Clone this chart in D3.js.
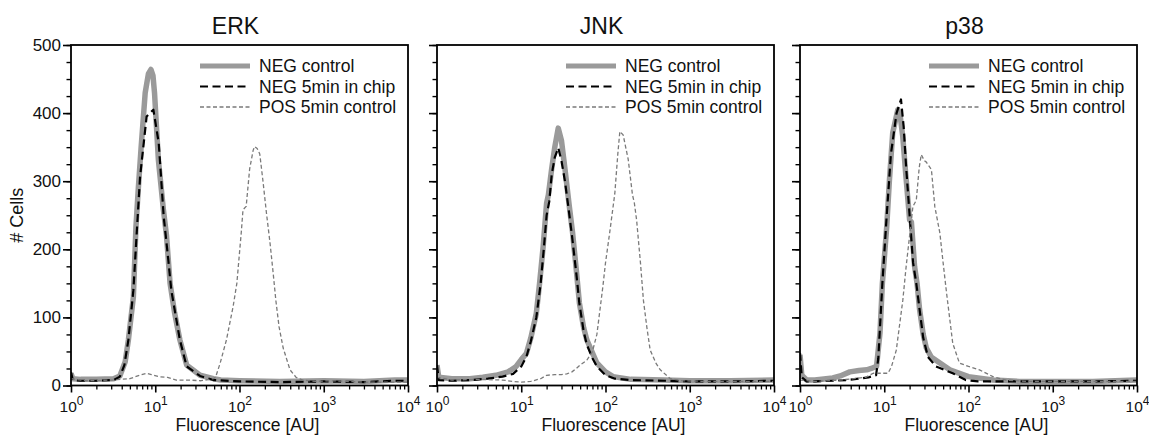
<!DOCTYPE html>
<html>
<head>
<meta charset="utf-8">
<script src="https://cdn.jsdelivr.net/npm/d3@7"></script>
<style>
  body { margin: 0; background: #fff; }
  text { font-family: "Liberation Sans", Arial, sans-serif; fill: #111; }
</style>
</head>
<body>
<script>
// ---- data: [fluorescence AU, # cells] ----
const titles = ["ERK", "JNK", "p38"];
const legendLabels = ["NEG control", "NEG 5min in chip", "POS 5min control"];
const yTicks = [0, 100, 200, 300, 400, 500];
const xDecades = [1, 10, 100, 1000, 10000];

const erkNeg = [[1,18],[1.05,10],[1.3,9],[2,9],[3.2,10],[3.8,14],[4.4,35],[4.8,67],[5.5,130],[5.9,233],[6.3,290],[6.8,350],[7.6,430],[8.3,458],[8.9,464],[9.4,455],[9.8,430],[10.9,331],[12.5,258],[13.6,220],[15,150],[17,106],[19.6,67],[23.6,30],[34,15],[49,10],[60,8],[100,7],[300,6],[1000,7],[3000,6],[7000,8],[10000,8]];
const erkChip = [[1,20],[1.05,8],[1.3,7],[2,7],[3.2,8],[3.8,13],[4.3,30],[4.8,67],[5.5,140],[6,220],[6.6,306],[7.9,395],[9.5,405],[11,356],[12.6,248],[14.3,184],[15.5,140],[19.6,67],[23.6,28],[34,14],[49,8],[100,6],[300,5],[1000,6],[3000,5],[7000,7],[10000,7]];
const erkPos = [[1,10],[1.5,7],[3,8],[5,10],[6.5,15],[7.9,18],[9,16],[11,13],[14,12],[17.8,8],[25,8],[35,7],[49,10],[52,12],[59,33],[70,67],[84,116],[93,150],[105,225],[110,258],[120,263],[132,318],[145,345],[151,351],[162,348],[174,340],[190,300],[209,253],[230,210],[251,165],[270,125],[295,86],[330,55],[398,23],[470,12],[562,8],[800,6],[1200,7],[3000,5],[10000,5]];

const jnkNeg = [[1,30],[1.05,12],[1.5,10],[2.45,10],[3.5,12],[5,15],[7,20],[8.7,28],[10,38],[11.5,47],[13,70],[15.1,106],[16.5,150],[18.2,204],[20,268],[21,280],[22.9,317],[25,350],[27.5,378],[30,360],[33.1,317],[37.2,263],[40.7,224],[45,170],[49,121],[55,85],[60,67],[70,48],[79,33],[100,20],[123,13],[200,9],[500,8],[1000,7],[3000,7],[10000,8]];
const jnkChip = [[1,30],[1.05,8],[1.5,7],[2.5,8],[4,10],[6,13],[8,17],[10,28],[11.5,42],[13,65],[15.1,100],[17,150],[18.5,200],[20,250],[21.5,270],[23,310],[25,335],[27.5,349],[30,330],[33,300],[36,265],[40,220],[45,165],[49,120],[55,80],[60,60],[70,40],[79,28],[100,15],[130,10],[200,8],[500,7],[1000,6],[3000,6],[10000,7]];
const jnkPos = [[1,12],[1.5,8],[3,9],[6,8],[8,6],[10,5],[13,6],[17,10],[20,15],[25,16],[30,16],[34.7,17],[40,20],[45,25],[50,30],[60,37],[70,50],[79,75],[93,145],[100,180],[112,224],[129,282],[140,340],[148,373],[162,368],[186,332],[209,280],[220,268],[234,243],[260,180],[282,125],[310,85],[339,52],[400,32],[447,23],[589,10],[800,7],[1500,6],[10000,6]];

const p38Neg = [[1,45],[1.05,15],[1.2,8],[1.5,8],[2.45,11],[3,14],[3.9,20],[5,22],[6.2,23],[7,25],[8.1,28],[8.9,77],[9.5,150],[10.7,233],[11.5,300],[12.6,371],[14.5,405],[15.5,395],[16.6,365],[18,310],[20,243],[21,240],[22.9,175],[24.5,150],[26.3,111],[29,75],[31.6,55],[36,42],[41,37],[60,23],[100,13],[195,8],[400,6],[1000,6],[3000,6],[10000,8]];
const p38Chip = [[1,48],[1.05,12],[1.2,6],[1.5,6],[2.5,7],[3.5,8],[5,10],[6.5,12],[8,15],[8.5,40],[9.5,150],[10.7,250],[12,340],[14,400],[15.8,420],[17,380],[18.2,320],[20,250],[22,180],[24,150],[26.3,111],[29,70],[33,42],[41,28],[65,18],[93,8],[130,6],[200,6],[1000,6],[3000,6],[10000,7]];
const p38Pos = [[1,8],[1.5,6],[3,8],[6,12],[7.4,18],[11.1,18],[12.2,28],[13.9,52],[16.6,125],[18.2,175],[20,220],[21.9,263],[24,272],[26,320],[27.5,339],[30,330],[31.6,328],[36.3,317],[39.8,263],[45.7,224],[50,180],[55,135],[65,62],[78,33],[100,28],[135,23],[195,13],[280,8],[500,6],[1000,6],[10000,6]];

const panels = [
  {title: titles[0], series: [erkNeg, erkChip, erkPos], left: 71},
  {title: titles[1], series: [jnkNeg, jnkChip, jnkPos], left: 437},
  {title: titles[2], series: [p38Neg, p38Chip, p38Pos], left: 800}
];

// line styles: NEG control, NEG 5min in chip, POS 5min control
const styles = [
  {stroke: "#9a9a9a", width: 5.5, dash: null},
  {stroke: "#000", width: 2.2, dash: "8,4.5"},
  {stroke: "#7a7a7a", width: 1.3, dash: "4,2.5"}
];

const W = 1149, H = 440;
const plotTop = 45, plotBottom = 385.5, pw = 337;

const svg = d3.select("body").append("svg")
  .attr("width", W).attr("height", H);

const y = d3.scaleLinear().domain([0, 500]).range([plotBottom, plotTop]);

panels.forEach((p, pi) => {
  const x = d3.scaleLog().domain([1, 10000]).range([p.left, p.left + pw]);
  const g = svg.append("g");

  const clipId = "clip" + pi;
  svg.append("clipPath").attr("id", clipId)
    .append("rect")
    .attr("x", p.left).attr("y", plotTop)
    .attr("width", pw).attr("height", plotBottom - plotTop);

  const line = d3.line()
    .x(d => x(d[0]))
    .y(d => y(d[1]));

  // draw order: gray, black dashed, POS
  p.series.forEach((s, si) => {
    const st = styles[si];
    g.append("path")
      .datum(s)
      .attr("clip-path", "url(#" + clipId + ")")
      .attr("fill", "none")
      .attr("stroke", st.stroke)
      .attr("stroke-width", st.width)
      .attr("stroke-linejoin", "round")
      .attr("stroke-dasharray", st.dash)
      .attr("d", line);
  });

  // frame
  g.append("rect")
    .attr("x", p.left).attr("y", plotTop)
    .attr("width", pw).attr("height", plotBottom - plotTop)
    .attr("fill", "none").attr("stroke", "#000").attr("stroke-width", 1.8);

  // y axis - minor then major
  const minorY = d3.range(0, 501, 25);
  g.append("g").attr("transform", `translate(${p.left},0)`)
    .call(d3.axisLeft(y).tickValues(minorY).tickSize(4.5).tickFormat(""))
    .call(a => a.select(".domain").remove())
    .call(a => a.selectAll("line").attr("stroke-width", 1.4));

  const yAx = g.append("g").attr("transform", `translate(${p.left},0)`)
    .call(d3.axisLeft(y).tickValues(yTicks).tickSize(8).tickPadding(2))
    .call(a => a.select(".domain").remove())
    .call(a => a.selectAll("line").attr("stroke-width", 1.6));
  yAx.selectAll("text")
    .attr("font-size", 17)
    .attr("font-family", "'Liberation Sans', Arial, sans-serif")
    .style("fill", "#111");
  if (pi > 0) yAx.selectAll("text").remove();

  // x axis - minor ticks
  const minorX = [];
  xDecades.slice(0, -1).forEach(d => { for (let k = 2; k <= 9; k++) minorX.push(d * k); });
  g.append("g").attr("transform", `translate(0,${plotBottom})`)
    .call(d3.axisBottom(x).tickValues(minorX).tickSize(4).tickFormat(""))
    .call(a => a.select(".domain").remove())
    .call(a => a.selectAll("line").attr("stroke-width", 1.3));

  const xAx = g.append("g").attr("transform", `translate(0,${plotBottom})`)
    .call(d3.axisBottom(x).tickValues(xDecades).tickSize(7).tickFormat(""))
    .call(a => a.select(".domain").remove())
    .call(a => a.selectAll("line").attr("stroke-width", 1.6));

  // decade labels with superscript exponent
  xAx.selectAll(".tick").each(function(d) {
    const t = d3.select(this).append("text")
      .attr("y", 26.5)
      .attr("text-anchor", "middle")
      .attr("font-size", 15.5)
      .style("fill", "#111");
    t.append("tspan").text("10");
    t.append("tspan").attr("dy", -7).attr("font-size", 12)
      .text(Math.round(Math.log10(d)));
  });

  // x title
  g.append("text")
    .attr("x", p.left + pw / 2 + 8).attr("y", 431)
    .attr("text-anchor", "middle")
    .attr("font-size", 17.5)
    .text("Fluorescence [AU]");

  // panel title
  g.append("text")
    .attr("x", p.left + pw / 2 - 4).attr("y", 34)
    .attr("text-anchor", "middle")
    .attr("font-size", 23)
    .text(p.title);

  // legend
  const lg = g.append("g").attr("transform", `translate(${p.left + 129},66)`);
  legendLabels.forEach((lab, i) => {
    const st = styles[i];
    const r = lg.append("g").attr("transform", `translate(0,${i * 20.5})`);
    r.append("line")
      .attr("x1", 0).attr("x2", 50)
      .attr("stroke", st.stroke)
      .attr("stroke-width", i === 0 ? 5 : st.width)
      .attr("stroke-dasharray", st.dash);
    r.append("text")
      .attr("x", 59).attr("y", 6)
      .attr("font-size", 17.5)
      .text(lab);
  });
});

// y title
svg.append("text")
  .attr("transform", `translate(23,${(plotTop + plotBottom) / 2}) rotate(-90)`)
  .attr("text-anchor", "middle")
  .attr("font-size", 18)
  .text("# Cells");
</script>
</body>
</html>
